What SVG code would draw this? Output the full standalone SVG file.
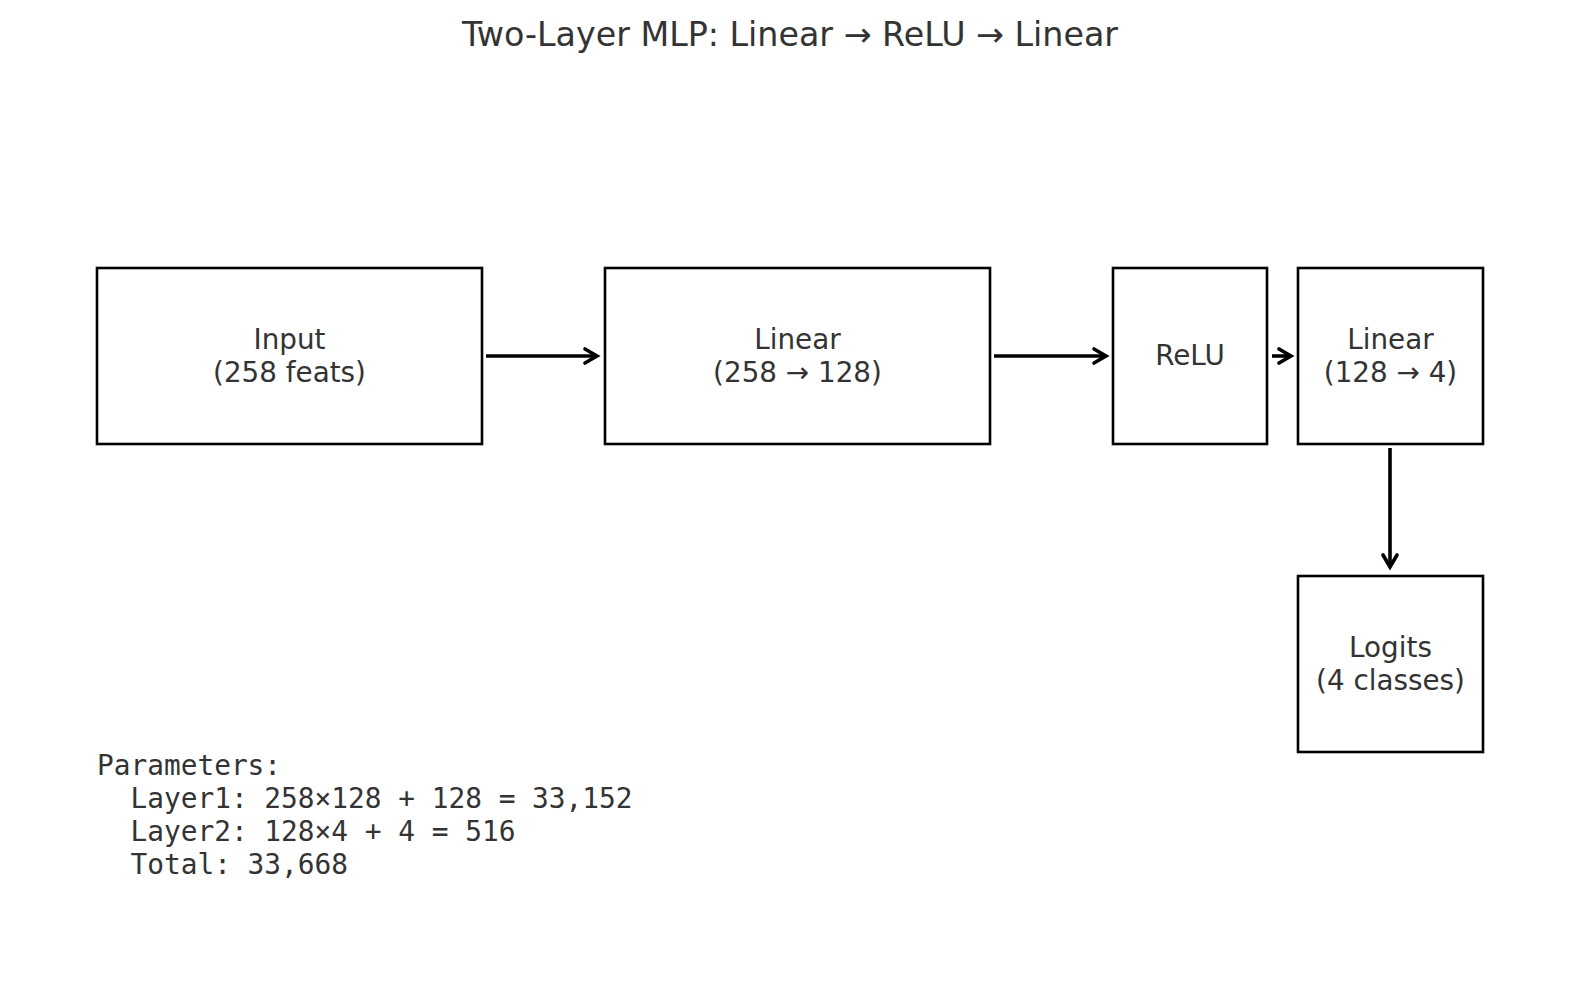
<svg xmlns="http://www.w3.org/2000/svg" width="1580" height="990" viewBox="0 0 1580 990">
<style>
  .box { fill: #ffffff; stroke: #000000; stroke-width: 2.6; }
  .lbl { font-family: "DejaVu Sans", sans-serif; font-size: 27.8px; fill: #333333; text-anchor: middle; }
  .title { font-family: "DejaVu Sans", sans-serif; font-size: 33.3px; fill: #333333; text-anchor: middle; }
  .mono { font-family: "DejaVu Sans Mono", monospace; font-size: 27.8px; fill: #333333; white-space: pre; }
  .edge { stroke: #000000; stroke-width: 3.6; fill: none; marker-end: url(#head); }
</style>
<defs>
  <marker id="head" markerUnits="userSpaceOnUse" viewBox="0 0 16 18" refX="14" refY="9" markerWidth="16" markerHeight="18" orient="auto" overflow="visible">
    <path d="M2,2 L14,9 L2,16" fill="none" stroke="#000000" stroke-width="3.6" stroke-linecap="round" stroke-linejoin="miter"/>
  </marker>
</defs>
<rect width="1580" height="990" fill="#ffffff"/>
<text class="title" x="790" y="46">Two-Layer MLP: Linear → ReLU → Linear</text>

<g id="connectors">
  <line class="edge" x1="486" y1="356" x2="597" y2="356"/>
  <line class="edge" x1="994" y1="356" x2="1106" y2="356"/>
  <line class="edge" x1="1272" y1="356" x2="1291" y2="356"/>
  <line class="edge" x1="1390" y1="448" x2="1390" y2="567"/>
</g>

<g id="node-input">
  <rect class="box" x="97" y="268" width="385" height="176"/>
  <text class="lbl" x="289.5" y="349">Input</text>
  <text class="lbl" x="289.5" y="382">(258 feats)</text>
</g>
<g id="node-linear1">
  <rect class="box" x="605" y="268" width="385" height="176"/>
  <text class="lbl" x="797.5" y="349">Linear</text>
  <text class="lbl" x="797.5" y="382">(258 → 128)</text>
</g>
<g id="node-relu">
  <rect class="box" x="1113" y="268" width="154" height="176"/>
  <text class="lbl" x="1190" y="365">ReLU</text>
</g>
<g id="node-linear2">
  <rect class="box" x="1298" y="268" width="185" height="176"/>
  <text class="lbl" x="1390.5" y="349">Linear</text>
  <text class="lbl" x="1390.5" y="382">(128 → 4)</text>
</g>
<g id="node-logits">
  <rect class="box" x="1298" y="576" width="185" height="176"/>
  <text class="lbl" x="1390.5" y="657">Logits</text>
  <text class="lbl" x="1390.5" y="690">(4 classes)</text>
</g>

<g id="params">
  <text class="mono" x="97" y="775">Parameters:</text>
  <text class="mono" x="97" y="808">  Layer1: 258×128 + 128 = 33,152</text>
  <text class="mono" x="97" y="841">  Layer2: 128×4 + 4 = 516</text>
  <text class="mono" x="97" y="874">  Total: 33,668</text>
</g>
</svg>
